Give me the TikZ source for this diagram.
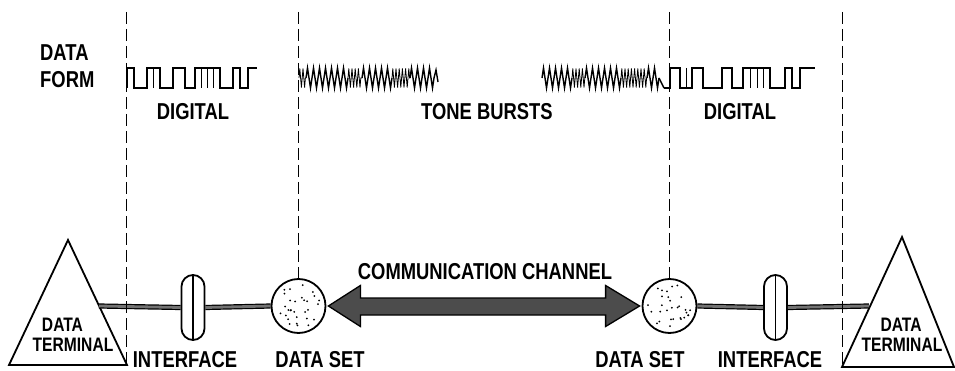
\documentclass[tikz,border=0pt]{standalone}
\usepackage{fontspec}
\newfontfamily\lab{Liberation Sans Bold}[FakeStretch=0.8]
\usetikzlibrary{calc,decorations.pathmorphing}
\begin{document}
\begin{tikzpicture}[x=1pt,y=-1pt,
  dashline/.style={dash pattern=on 12pt off 5pt, line width=1.7pt},
  lbl/.style={font=\lab\fontsize{23}{25}\selectfont, inner sep=0pt},
  tlbl/.style={font=\lab\fontsize{19.5}{22}\selectfont, inner sep=0pt},
  wave/.style={line width=1.4pt, line join=miter},
  tick/.style={line width=0.6pt},
  coarse/.style={wave, decorate, decoration={zigzag, segment length=6pt, amplitude=10pt}},
  dense/.style={line width=0.8pt, decorate, decoration={zigzag, segment length=3.2pt, amplitude=9.5pt}},
  dataset/.style={circle, draw, line width=1.8pt, minimum size=54pt, inner sep=0pt},
  iface/.style={rectangle, rounded corners=11.5pt, draw, line width=1.8pt, minimum width=23pt, minimum height=65pt, inner sep=0pt},
  link/.style={draw=black, line width=1.2pt, double=black!55, double distance=2.8pt},
  term/.style={line width=1.8pt, line join=miter},
  chan/.style={draw=black, line width=1.3pt, fill=black!70, line join=miter}
]
\useasboundingbox (0,0) rectangle (955,371);

% nodes
\node[dataset] (dsl) at (298.5,306) {};
\node[dataset] (dsr) at (669.5,306) {};
\node[iface] (ifl) at (193,307.5) {};
\node[iface] (ifr) at (775.5,307.5) {};
\coordinate (tl) at (99,306);
\coordinate (tr) at (869,306);

% triangles
\draw[term] (68,240) -- (127,365) -- (9,365) -- cycle;
\draw[term] (902,237) -- (954,367) -- (842,367) -- cycle;

% interface inner lines
\draw[line width=1.5pt] (ifl.north) -- (ifl.south);
\draw[line width=1.5pt] (ifr.north) -- (ifr.south);

% links
\draw[link] (tl) -- (ifl.west);
\draw[link] (ifl.east) -- (dsl.west);
\draw[link] (dsr.east) -- (ifr.west);
\draw[link] (ifr.east) -- (tr);

% dots in data sets
\pgfmathsetseed{7}
\foreach \k in {1,...,30}{
  \pgfmathsetmacro\ang{360*rnd}
  \pgfmathsetmacro\rr{22*sqrt(rnd)}
  \fill ([shift={(\ang:\rr)}]dsl.center) circle (1.0);
}
\foreach \k in {1,...,30}{
  \pgfmathsetmacro\ang{360*rnd}
  \pgfmathsetmacro\rr{22*sqrt(rnd)}
  \fill ([shift={(\ang:\rr)}]dsr.center) circle (1.0);
}

% communication channel arrow
\coordinate (a1) at ([xshift=2pt]dsl.east);
\coordinate (a2) at ([xshift=-2pt]dsr.west);
\draw[chan] (a1) -- ($(a1)+(32,-20.5)$) -- ($(a1)+(32,-8)$) -- ($(a2)+(-34,-8)$) -- ($(a2)+(-34,-20.5)$)
  -- (a2) -- ($(a2)+(-34,20.5)$) -- ($(a2)+(-34,9)$) -- ($(a1)+(32,9)$) -- ($(a1)+(32,20.5)$) -- cycle;

% dashed boundaries
\draw[dashline] (126.5,12) -- (126.5,365);
\draw[dashline] (298.5,12) -- (dsl.north);
\draw[dashline] (669.5,12) -- (dsr.north);
\draw[dashline] (842.5,12) -- (842.5,367);

% digital waveform left
\draw[wave] (127,88) -- (127,68) -- (134,68) -- (134,88) -- (147,88) -- (147,68) -- (160,68) -- (160,88)
  -- (173,88) -- (173,68) -- (185,68) -- (185,88) -- (195,88) -- (195,68) -- (220,68) -- (220,88)
  -- (233,88) -- (233,68) -- (240,68) -- (240,88) -- (248,88) -- (248,68) -- (257,68);
\draw[tick] (153,68) -- (153,88) (201,68) -- (201,88) (207,68) -- (207,88) (213,68) -- (213,88);

% digital waveform right
\draw[wave] (664,88) -- (670,88) -- (670,68) -- (680,68) -- (680,88) -- (692,88) -- (692,68) -- (703,68) -- (703,88)
  -- (722,88) -- (722,68) -- (732,68) -- (732,88) -- (743,88) -- (743,68) -- (770,68) -- (770,88)
  -- (785,88) -- (785,68) -- (792,68) -- (792,88) -- (800,88) -- (800,68) -- (815,68);
\draw[tick] (686,68) -- (686,88) (750,68) -- (750,88) (757,68) -- (757,88) (763,68) -- (763,88);

% tone bursts left
\draw[dense] (299,78) -- (306,78);
\draw[coarse] (306,78) -- (348,78);
\draw[dense] (348,78) -- (362,78);
\draw[coarse] (362,78) -- (392,78);
\draw[dense] (392,78) -- (410,78);
\draw[coarse] (410,78) -- (434,78);
\draw[wave] (434,78) -- (436,70) -- (438,82);

% tone bursts right
\draw[coarse] (542,78) -- (572,78);
\draw[dense] (572,78) -- (585,78);
\draw[coarse] (585,78) -- (621,78);
\draw[dense] (621,78) -- (647,78);
\draw[coarse] (647,78) -- (659,78);
\draw[wave] (659,78) -- (664,88);

% labels
\node[lbl, anchor=west] (ldata) at (40,52.5) {DATA};
\node[lbl, anchor=west] (lform) at (40,79.5) {FORM};
\node[lbl] (ldig1) at (193,112) {DIGITAL};
\node[lbl] (ltone) at (487,112) {TONE BURSTS};
\node[lbl] (ldig2) at (740,112) {DIGITAL};
\node[lbl] (lchan) at (485,272) {COMMUNICATION CHANNEL};
\node[lbl] (lifl) at (185,360) {INTERFACE};
\node[lbl] (ldsl) at (320,360) {DATA SET};
\node[lbl] (ldsr) at (640,360) {DATA SET};
\node[lbl] (lifr) at (770,360) {INTERFACE};
\node[tlbl] (tld) at (62.5,324.5) {DATA};
\node[tlbl] (tlt) at (73,344.5) {TERMINAL};
\node[tlbl] (trd) at (901,324.5) {DATA};
\node[tlbl] (trt) at (902,344.5) {TERMINAL};
\end{tikzpicture}
\end{document}
